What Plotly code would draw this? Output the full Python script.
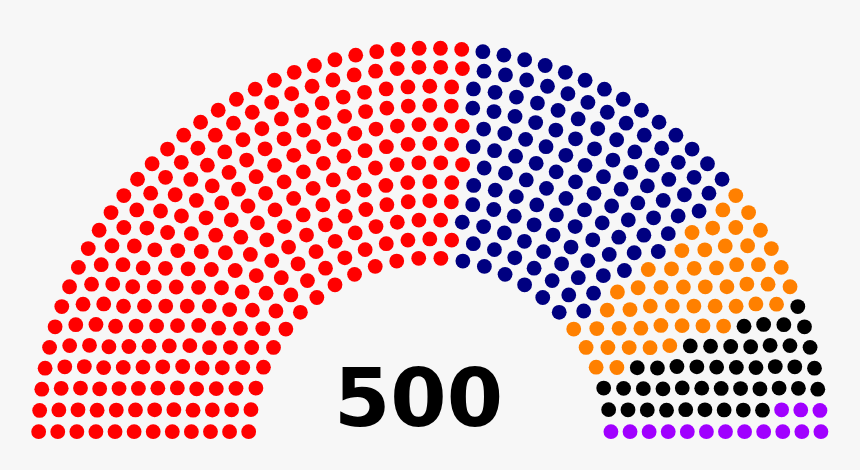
import math
import plotly.graph_objects as go

# Seats per party, left to right
parties = ['Red', 'Navy', 'Orange', 'Black', 'Purple']
seats = [269, 121, 52, 43, 15]
colors = ['#FF0000', '#000080', '#FF8000', '#000000', '#A000FF']
total_label = '500'

# Cumulative capacities used by the arch layout to pick the number of rows
totals = [3, 15, 33, 61, 95, 138, 189, 247, 313, 388, 469, 559, 657, 762, 876, 997]


def arch_positions(n):
    """ Seat positions for an n-seat half-circle diagram, sorted left to right """
    rows = next(i + 1 for i, t in enumerate(totals) if t >= n)
    radius = 0.4 / rows
    pos = []

    def add_row(count, r):
        if count == 1:
            pos.append((math.pi / 2, 0.0, r))
            return
        for j in range(count):
            a = j * (math.pi - 2 * math.sin(radius / r)) / (count - 1) + math.sin(radius / r)
            pos.append((a, r * math.cos(a), r * math.sin(a)))

    # fill inner rows first, the outer row takes what is left
    for i in range(1, rows):
        count = int(n / totals[rows - 1] * math.pi / (2 * math.asin(2.0 / (3.0 * rows + 4.0 * i - 2.0))))
        add_row(count, (3.0 * rows + 4.0 * i - 2.0) / (4.0 * rows))
    add_row(n - len(pos), (7.0 * rows - 2.0) / (4.0 * rows))
    pos.sort(reverse=True)
    return pos, radius


pos, radius = arch_positions(sum(seats))

W, H = 860, 470
scale = 229.0  # px per unit
cx, base = 429.8, 439.3

fig = go.Figure()
k = 0
for name, n, col in zip(parties, seats, colors):
    chunk = pos[k:k + n]
    k += n
    fig.add_trace(go.Scatter(
        x=[p[1] for p in chunk], y=[p[2] for p in chunk],
        mode='markers', name=name, hoverinfo='name',
        marker=dict(color=col, size=14.8, line=dict(width=0))
    ))

fig.add_annotation(
    x=-0.05, y=(base - 397.5) / scale, xref='x', yref='y',
    text='<b>' + total_label + '</b>', showarrow=False,
    font=dict(family='DejaVu Sans', size=81, color='black'),
    xanchor='center', yanchor='middle'
)

fig.update_layout(
    width=W, height=H,
    margin=dict(l=0, r=0, t=0, b=0),
    paper_bgcolor='#F7F7F7', plot_bgcolor='#F7F7F7',
    showlegend=False,
    xaxis=dict(range=[-cx / scale, (W - cx) / scale], visible=False, fixedrange=True),
    yaxis=dict(range=[(base - H) / scale, base / scale], visible=False, fixedrange=True),
)

# drop the page margin so the figure fills the window
fig.write_html('out.html', config={'displayModeBar': False},
               post_script="document.body.style.margin='0';document.body.style.background='#F7F7F7';")
